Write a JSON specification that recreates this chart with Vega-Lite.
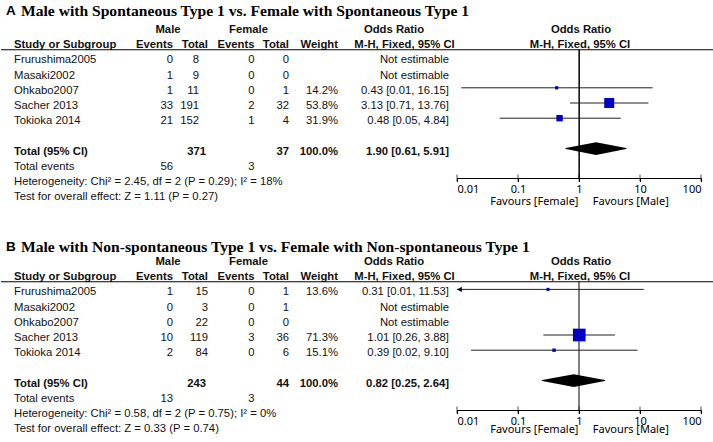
{
  "$schema": "https://vega.github.io/schema/vega-lite/v6.json",
  "background": "white",
  "padding": 0,
  "spacing": 0,
  "config": {"view": {"stroke": null}},
  "datasets": {
    "cells": [
      {"p":"A","row":0,"col":10,"t":"Male"},{"p":"A","row":0,"col":11,"t":"Female"},{"p":"A","row":0,"col":12,"t":"Odds Ratio"},{"p":"A","row":0,"col":14,"t":"Odds Ratio"},
      {"p":"A","row":1,"col":2,"t":"Study or Subgroup"},{"p":"A","row":1,"col":3,"t":"Events"},{"p":"A","row":1,"col":4,"t":"Total"},{"p":"A","row":1,"col":6,"t":"Events"},{"p":"A","row":1,"col":7,"t":"Total"},{"p":"A","row":1,"col":8,"t":"Weight"},{"p":"A","row":1,"col":13,"t":"M-H, Fixed, 95% CI"},{"p":"A","row":1,"col":15,"t":"M-H, Fixed, 95% CI"},
      {"p":"A","row":2,"col":2,"t":"Frurushima2005"},{"p":"A","row":2,"col":3,"t":"0"},{"p":"A","row":2,"col":5,"t":"8"},{"p":"A","row":2,"col":6,"t":"0"},{"p":"A","row":2,"col":7,"t":"0"},{"p":"A","row":2,"col":9,"t":"Not estimable"},
      {"p":"A","row":3,"col":2,"t":"Masaki2002"},{"p":"A","row":3,"col":3,"t":"1"},{"p":"A","row":3,"col":5,"t":"9"},{"p":"A","row":3,"col":6,"t":"0"},{"p":"A","row":3,"col":7,"t":"0"},{"p":"A","row":3,"col":9,"t":"Not estimable"},
      {"p":"A","row":4,"col":2,"t":"Ohkabo2007"},{"p":"A","row":4,"col":3,"t":"1"},{"p":"A","row":4,"col":5,"t":"11"},{"p":"A","row":4,"col":6,"t":"0"},{"p":"A","row":4,"col":7,"t":"1"},{"p":"A","row":4,"col":8,"t":"14.2%"},{"p":"A","row":4,"col":9,"t":"0.43 [0.01, 16.15]"},
      {"p":"A","row":5,"col":2,"t":"Sacher 2013"},{"p":"A","row":5,"col":3,"t":"33"},{"p":"A","row":5,"col":5,"t":"191"},{"p":"A","row":5,"col":6,"t":"2"},{"p":"A","row":5,"col":7,"t":"32"},{"p":"A","row":5,"col":8,"t":"53.8%"},{"p":"A","row":5,"col":9,"t":"3.13 [0.71, 13.76]"},
      {"p":"A","row":6,"col":2,"t":"Tokioka 2014"},{"p":"A","row":6,"col":3,"t":"21"},{"p":"A","row":6,"col":5,"t":"152"},{"p":"A","row":6,"col":6,"t":"1"},{"p":"A","row":6,"col":7,"t":"4"},{"p":"A","row":6,"col":8,"t":"31.9%"},{"p":"A","row":6,"col":9,"t":"0.48 [0.05, 4.84]"},
      {"p":"A","row":8,"col":2,"t":"Total (95% CI)"},{"p":"A","row":8,"col":16,"t":"371"},{"p":"A","row":8,"col":7,"t":"37"},{"p":"A","row":8,"col":8,"t":"100.0%"},{"p":"A","row":8,"col":9,"t":"1.90 [0.61, 5.91]"},
      {"p":"A","row":9,"col":2,"t":"Total events"},{"p":"A","row":9,"col":3,"t":"56"},{"p":"A","row":9,"col":6,"t":"3"},
      {"p":"A","row":10,"col":2,"t":"Heterogeneity: Chi² = 2.45, df = 2 (P = 0.29); I² = 18%"},
      {"p":"A","row":11,"col":2,"t":"Test for overall effect: Z = 1.11 (P = 0.27)"},
      {"p":"B","row":0,"col":10,"t":"Male"},{"p":"B","row":0,"col":11,"t":"Female"},{"p":"B","row":0,"col":12,"t":"Odds Ratio"},{"p":"B","row":0,"col":14,"t":"Odds Ratio"},
      {"p":"B","row":1,"col":2,"t":"Study or Subgroup"},{"p":"B","row":1,"col":3,"t":"Events"},{"p":"B","row":1,"col":4,"t":"Total"},{"p":"B","row":1,"col":6,"t":"Events"},{"p":"B","row":1,"col":7,"t":"Total"},{"p":"B","row":1,"col":8,"t":"Weight"},{"p":"B","row":1,"col":13,"t":"M-H, Fixed, 95% CI"},{"p":"B","row":1,"col":15,"t":"M-H, Fixed, 95% CI"},
      {"p":"B","row":2,"col":2,"t":"Frurushima2005"},{"p":"B","row":2,"col":3,"t":"1"},{"p":"B","row":2,"col":4,"t":"15"},{"p":"B","row":2,"col":6,"t":"0"},{"p":"B","row":2,"col":7,"t":"1"},{"p":"B","row":2,"col":8,"t":"13.6%"},{"p":"B","row":2,"col":9,"t":"0.31 [0.01, 11.53]"},
      {"p":"B","row":3,"col":2,"t":"Masaki2002"},{"p":"B","row":3,"col":3,"t":"0"},{"p":"B","row":3,"col":4,"t":"3"},{"p":"B","row":3,"col":6,"t":"0"},{"p":"B","row":3,"col":7,"t":"1"},{"p":"B","row":3,"col":9,"t":"Not estimable"},
      {"p":"B","row":4,"col":2,"t":"Ohkabo2007"},{"p":"B","row":4,"col":3,"t":"0"},{"p":"B","row":4,"col":4,"t":"22"},{"p":"B","row":4,"col":6,"t":"0"},{"p":"B","row":4,"col":7,"t":"0"},{"p":"B","row":4,"col":9,"t":"Not estimable"},
      {"p":"B","row":5,"col":2,"t":"Sacher 2013"},{"p":"B","row":5,"col":3,"t":"10"},{"p":"B","row":5,"col":4,"t":"119"},{"p":"B","row":5,"col":6,"t":"3"},{"p":"B","row":5,"col":7,"t":"36"},{"p":"B","row":5,"col":8,"t":"71.3%"},{"p":"B","row":5,"col":9,"t":"1.01 [0.26, 3.88]"},
      {"p":"B","row":6,"col":2,"t":"Tokioka 2014"},{"p":"B","row":6,"col":3,"t":"2"},{"p":"B","row":6,"col":4,"t":"84"},{"p":"B","row":6,"col":6,"t":"0"},{"p":"B","row":6,"col":7,"t":"6"},{"p":"B","row":6,"col":8,"t":"15.1%"},{"p":"B","row":6,"col":9,"t":"0.39 [0.02, 9.10]"},
      {"p":"B","row":8,"col":2,"t":"Total (95% CI)"},{"p":"B","row":8,"col":16,"t":"243"},{"p":"B","row":8,"col":7,"t":"44"},{"p":"B","row":8,"col":8,"t":"100.0%"},{"p":"B","row":8,"col":9,"t":"0.82 [0.25, 2.64]"},
      {"p":"B","row":9,"col":2,"t":"Total events"},{"p":"B","row":9,"col":3,"t":"13"},{"p":"B","row":9,"col":6,"t":"3"},
      {"p":"B","row":10,"col":2,"t":"Heterogeneity: Chi² = 0.58, df = 2 (P = 0.75); I² = 0%"},
      {"p":"B","row":11,"col":2,"t":"Test for overall effect: Z = 0.33 (P = 0.74)"}
    ],
    "titles": [
      {"p":"A","letter":"A","t":"Male with Spontaneous Type 1 vs. Female with Spontaneous Type 1"},
      {"p":"B","letter":"B","t":"Male with Non-spontaneous Type 1 vs. Female with Non-spontaneous Type 1"}
    ],
    "studies": [
      {"p":"A","row":4,"or":0.43,"lo":0.0117,"hi":16.15,"weight":14.2,"clip":false},
      {"p":"A","row":5,"or":3.13,"lo":0.71,"hi":13.76,"weight":53.8,"clip":false},
      {"p":"A","row":6,"or":0.48,"lo":0.05,"hi":4.84,"weight":31.9,"clip":false},
      {"p":"B","row":2,"or":0.31,"lo":0.01,"hi":11.53,"weight":13.6,"clip":true},
      {"p":"B","row":5,"or":1.01,"lo":0.26,"hi":3.88,"weight":71.3,"clip":false},
      {"p":"B","row":6,"or":0.39,"lo":0.017,"hi":9.10,"weight":15.1,"clip":false}
    ],
    "pooled": [
      {"p":"A","row":8,"x":0.61,"weight":0},{"p":"A","row":8,"x":1.90,"weight":100},{"p":"A","row":8,"x":5.91,"weight":0},
      {"p":"B","row":8,"x":0.25,"weight":0},{"p":"B","row":8,"x":0.82,"weight":100},{"p":"B","row":8,"x":2.64,"weight":0}
    ],
    "nullline": [
      {"p":"A","or":1,"col":17,"from":1.3,"to":9.737},
      {"p":"B","or":1,"col":17,"from":1.3,"to":9.737}
    ],
    "ticks": [{"v":0.01},{"v":0.1},{"v":1},{"v":10},{"v":100}]
  },
  "vconcat": [
    {
      "width": 713, "height": 232,
      "resolve": {"scale": {"x": "independent", "size": "independent"}, "axis": {"x": "independent"}},
      "layer": [
        {
          "data": {"name": "cells"},
          "transform": [{"filter": "datum.p == 'A'"}],
          "encoding": {
            "x": {"field": "col", "type": "quantitative", "axis": null, "scale": {"domain": [0,1,2,3,4,5,6,7,8,9,10,11,12,13,14,15,16,17], "range": [5,20,13,172,207,198,253.5,288,337,448,167,247.5,393,403.5,580,579,205,578.3], "zero": false, "nice": false}},
            "y": {"field": "row", "type": "quantitative", "axis": null, "scale": {"domain": [-1.974, 13.289], "reverse": true, "zero": false, "nice": false}}
          },
          "layer": [
            {"transform": [{"filter": "datum.col == 2 && datum.row >= 2 && datum.row != 8"}], "mark": {"type": "text", "align": "left", "baseline": "middle", "font": "Liberation Sans", "fontSize": 11.3, "color": "#111"}, "encoding": {"text": {"field": "t", "type": "nominal"}}},
            {"transform": [{"filter": "datum.col == 2 && (datum.row <= 1 || datum.row == 8)"}], "mark": {"type": "text", "align": "left", "baseline": "middle", "font": "Liberation Sans", "fontSize": 11.3, "fontWeight": "bold", "color": "#111"}, "encoding": {"text": {"field": "t", "type": "nominal"}}},
            {"transform": [{"filter": "datum.col >= 3 && datum.col <= 9 && datum.row >= 2 && datum.row != 8"}], "mark": {"type": "text", "align": "right", "baseline": "middle", "font": "Liberation Sans", "fontSize": 11.3, "color": "#111"}, "encoding": {"text": {"field": "t", "type": "nominal"}}},
            {"transform": [{"filter": "((datum.col >= 3 && datum.col <= 9) || datum.col == 16) && (datum.row <= 1 || datum.row == 8)"}], "mark": {"type": "text", "align": "right", "baseline": "middle", "font": "Liberation Sans", "fontSize": 11.3, "fontWeight": "bold", "color": "#111"}, "encoding": {"text": {"field": "t", "type": "nominal"}}},
            {"transform": [{"filter": "datum.col >= 10 && datum.col <= 15"}], "mark": {"type": "text", "align": "center", "baseline": "middle", "font": "Liberation Sans", "fontSize": 11.3, "fontWeight": "bold", "color": "#111"}, "encoding": {"text": {"field": "t", "type": "nominal"}}},
            {
              "data": {"name": "nullline"},
              "transform": [{"filter": "datum.p == 'A'"}],
              "mark": {"type": "rule", "color": "#000", "strokeWidth": 1},
              "encoding": {
                "y": {"field": "from", "type": "quantitative", "axis": null, "scale": {"domain": [-1.974, 13.289], "reverse": true, "zero": false, "nice": false}},
                "y2": {"field": "to"}
              }
            }
          ]
        },
        {
          "data": {"name": "titles"},
          "transform": [{"filter": "datum.p == 'A'"}],
          "mark": {"type": "text", "align": "left", "baseline": "middle", "font": "Liberation Sans", "fontSize": 13.5, "fontWeight": "bold", "color": "#000"},
          "encoding": {
            "x": {"datum": 0, "type": "quantitative", "axis": null, "scale": {"domain": [0,1,2,3,4,5,6,7,8,9,10,11,12,13,14,15,16], "range": [5,20,13,172,207,198,253.5,288,337,448,167,247.5,393,403.5,580,579,205], "zero": false, "nice": false}},
            "y": {"datum": -1.26, "type": "quantitative", "axis": null, "scale": {"domain": [-1.974, 13.289], "reverse": true, "zero": false, "nice": false}},
            "text": {"field": "letter", "type": "nominal"}
          }
        },
        {
          "data": {"name": "titles"},
          "transform": [{"filter": "datum.p == 'A'"}],
          "mark": {"type": "text", "align": "left", "baseline": "middle", "font": "Liberation Serif", "fontSize": 15.6, "fontWeight": "bold", "color": "#000"},
          "encoding": {
            "x": {"datum": 1, "type": "quantitative", "axis": null, "scale": {"domain": [0,1,2,3,4,5,6,7,8,9,10,11,12,13,14,15,16], "range": [5,20,13,172,207,198,253.5,288,337,448,167,247.5,393,403.5,580,579,205], "zero": false, "nice": false}},
            "y": {"datum": -1.26, "type": "quantitative", "axis": null, "scale": {"domain": [-1.974, 13.289], "reverse": true, "zero": false, "nice": false}},
            "text": {"field": "t", "type": "nominal"}
          }
        },
        {
          "data": {"values": [{}]},
          "mark": {"type": "rule", "color": "#000", "strokeWidth": 1},
          "encoding": {"y": {"datum": 1.3, "type": "quantitative", "axis": null, "scale": {"domain": [-1.974, 13.289], "reverse": true, "zero": false, "nice": false}}}
        },
        {
          "data": {"name": "nullline"},
          "transform": [{"filter": "datum.p == 'A'"}],
          "mark": {"type": "rule", "color": "#000", "strokeWidth": 1},
          "encoding": {
            "x": {"field": "or", "type": "quantitative", "axis": null, "scale": {"type": "log", "domain": [0.01, 100], "range": [456, 700], "nice": false}},
            "y": {"field": "from", "type": "quantitative", "axis": null, "scale": {"domain": [-1.974, 13.289], "reverse": true, "zero": false, "nice": false}},
            "y2": {"field": "to"}
          }
        },
        {
          "data": {"name": "studies"},
          "transform": [{"filter": "datum.p == 'A'"}],
          "mark": {"type": "rule", "color": "#222", "strokeWidth": 1, "yOffset": -3},
          "encoding": {
            "x": {"field": "lo", "type": "quantitative", "scale": {"type": "log", "domain": [0.01, 100], "range": [456, 700], "nice": false},
                  "axis": {"orient": "bottom", "offset": -54, "values": [0.01, 0.1, 1, 10, 100], "format": "~g", "grid": false, "domainColor": "#000", "tickColor": "#000", "tickSize": 3.5, "labelFont": "Noto Sans", "labelFontSize": 11, "labelColor": "#000", "labelPadding": 2, "labelFlush": true, "labelOverlap": false, "title": "Favours [Female]\u00a0\u00a0\u00a0\u00a0 Favours [Male]", "titleFont": "Noto Sans", "titleFontSize": 11, "titleFontWeight": "normal", "titleColor": "#000", "titlePadding": 1}},
            "x2": {"field": "hi"},
            "y": {"field": "row", "type": "quantitative", "axis": null, "scale": {"domain": [-1.974, 13.289], "reverse": true, "zero": false, "nice": false}}
          }
        },
        {
          "data": {"name": "studies"},
          "transform": [{"filter": "datum.p == 'A'"}],
          "mark": {"type": "square", "filled": true, "color": "#0000c4", "opacity": 1, "yOffset": -3},
          "encoding": {
            "x": {"field": "or", "type": "quantitative", "axis": null, "scale": {"type": "log", "domain": [0.01, 100], "range": [456, 700], "nice": false}},
            "y": {"field": "row", "type": "quantitative", "axis": null, "scale": {"domain": [-1.974, 13.289], "reverse": true, "zero": false, "nice": false}},
            "size": {"field": "weight", "type": "quantitative", "legend": null, "scale": {"type": "pow", "exponent": 1.7, "domain": [0, 71.3], "range": [0, 161]}}
          }
        },
        {
          "data": {"name": "pooled"},
          "transform": [{"filter": "datum.p == 'A'"}],
          "mark": {"type": "trail", "color": "#000", "yOffset": -3},
          "encoding": {
            "x": {"field": "x", "type": "quantitative", "axis": null, "scale": {"type": "log", "domain": [0.01, 100], "range": [456, 700], "nice": false}},
            "y": {"field": "row", "type": "quantitative", "axis": null, "scale": {"domain": [-1.974, 13.289], "reverse": true, "zero": false, "nice": false}},
            "size": {"field": "weight", "type": "quantitative", "legend": null, "scale": {"domain": [0, 100], "range": [0, 12.6]}}
          }
        },
        {
          "data": {"name": "ticks"},
          "mark": {"type": "tick", "orient": "vertical", "size": 7, "thickness": 1, "color": "#000"},
          "encoding": {
            "x": {"field": "v", "type": "quantitative", "axis": null, "scale": {"type": "log", "domain": [0.01, 100], "range": [456, 700], "nice": false}},
            "y": {"datum": 9.737, "type": "quantitative", "axis": null, "scale": {"domain": [-1.974, 13.289], "reverse": true, "zero": false, "nice": false}}
          }
        }
      ]
    },
    {
      "width": 713, "height": 210,
      "resolve": {"scale": {"x": "independent", "size": "independent"}, "axis": {"x": "independent"}},
      "layer": [
        {
          "data": {"name": "cells"},
          "transform": [{"filter": "datum.p == 'B'"}],
          "encoding": {
            "x": {"field": "col", "type": "quantitative", "axis": null, "scale": {"domain": [0,1,2,3,4,5,6,7,8,9,10,11,12,13,14,15,16], "range": [5,20,13,172,207,198,253.5,288,337,448,167,247.5,393,403.5,580,579,205], "zero": false, "nice": false}},
            "y": {"field": "row", "type": "quantitative", "axis": null, "scale": {"domain": [-1.974, 11.842], "reverse": true, "zero": false, "nice": false}},
            "text": {"field": "t", "type": "nominal"}
          },
          "layer": [
            {"transform": [{"filter": "datum.col == 2 && datum.row >= 2 && datum.row != 8"}], "mark": {"type": "text", "align": "left", "baseline": "middle", "font": "Liberation Sans", "fontSize": 11.3, "color": "#111"}},
            {"transform": [{"filter": "datum.col == 2 && (datum.row <= 1 || datum.row == 8)"}], "mark": {"type": "text", "align": "left", "baseline": "middle", "font": "Liberation Sans", "fontSize": 11.3, "fontWeight": "bold", "color": "#111"}},
            {"transform": [{"filter": "datum.col >= 3 && datum.col <= 9 && datum.row >= 2 && datum.row != 8"}], "mark": {"type": "text", "align": "right", "baseline": "middle", "font": "Liberation Sans", "fontSize": 11.3, "color": "#111"}},
            {"transform": [{"filter": "((datum.col >= 3 && datum.col <= 9) || datum.col == 16) && (datum.row <= 1 || datum.row == 8)"}], "mark": {"type": "text", "align": "right", "baseline": "middle", "font": "Liberation Sans", "fontSize": 11.3, "fontWeight": "bold", "color": "#111"}},
            {"transform": [{"filter": "datum.col >= 10 && datum.col <= 15"}], "mark": {"type": "text", "align": "center", "baseline": "middle", "font": "Liberation Sans", "fontSize": 11.3, "fontWeight": "bold", "color": "#111"}}
          ]
        },
        {
          "data": {"name": "titles"},
          "transform": [{"filter": "datum.p == 'B'"}],
          "mark": {"type": "text", "align": "left", "baseline": "middle", "font": "Liberation Sans", "fontSize": 13.5, "fontWeight": "bold", "color": "#000"},
          "encoding": {
            "x": {"datum": 0, "type": "quantitative", "axis": null, "scale": {"domain": [0,1,2,3,4,5,6,7,8,9,10,11,12,13,14,15,16], "range": [5,20,13,172,207,198,253.5,288,337,448,167,247.5,393,403.5,580,579,205], "zero": false, "nice": false}},
            "y": {"datum": -1.0, "type": "quantitative", "axis": null, "scale": {"domain": [-1.974, 11.842], "reverse": true, "zero": false, "nice": false}},
            "text": {"field": "letter", "type": "nominal"}
          }
        },
        {
          "data": {"name": "titles"},
          "transform": [{"filter": "datum.p == 'B'"}],
          "mark": {"type": "text", "align": "left", "baseline": "middle", "font": "Liberation Serif", "fontSize": 15.6, "fontWeight": "bold", "color": "#000"},
          "encoding": {
            "x": {"datum": 1, "type": "quantitative", "axis": null, "scale": {"domain": [0,1,2,3,4,5,6,7,8,9,10,11,12,13,14,15,16], "range": [5,20,13,172,207,198,253.5,288,337,448,167,247.5,393,403.5,580,579,205], "zero": false, "nice": false}},
            "y": {"datum": -1.0, "type": "quantitative", "axis": null, "scale": {"domain": [-1.974, 11.842], "reverse": true, "zero": false, "nice": false}},
            "text": {"field": "t", "type": "nominal"}
          }
        },
        {
          "data": {"values": [{}]},
          "mark": {"type": "rule", "color": "#000", "strokeWidth": 1},
          "encoding": {"y": {"datum": 1.3, "type": "quantitative", "axis": null, "scale": {"domain": [-1.974, 11.842], "reverse": true, "zero": false, "nice": false}}}
        },
        {
          "data": {"name": "nullline"},
          "transform": [{"filter": "datum.p == 'B'"}],
          "mark": {"type": "rule", "color": "#000", "strokeWidth": 1},
          "encoding": {
            "x": {"field": "or", "type": "quantitative", "axis": null, "scale": {"type": "log", "domain": [0.01, 100], "range": [456, 700], "nice": false}},
            "y": {"field": "from", "type": "quantitative", "axis": null, "scale": {"domain": [-1.974, 11.842], "reverse": true, "zero": false, "nice": false}},
            "y2": {"field": "to"}
          }
        },
        {
          "data": {"name": "studies"},
          "transform": [{"filter": "datum.p == 'B'"}],
          "mark": {"type": "rule", "color": "#222", "strokeWidth": 1, "yOffset": -3},
          "encoding": {
            "x": {"field": "lo", "type": "quantitative", "scale": {"type": "log", "domain": [0.01, 100], "range": [456, 700], "nice": false},
                  "axis": {"orient": "bottom", "offset": -32, "values": [0.01, 0.1, 1, 10, 100], "format": "~g", "grid": false, "domainColor": "#000", "tickColor": "#000", "tickSize": 3.5, "labelFont": "Noto Sans", "labelFontSize": 11, "labelColor": "#000", "labelPadding": 2, "labelFlush": true, "labelOverlap": false, "title": "Favours [Female]\u00a0\u00a0\u00a0\u00a0 Favours [Male]", "titleFont": "Noto Sans", "titleFontSize": 11, "titleFontWeight": "normal", "titleColor": "#000", "titlePadding": -3.5}},
            "x2": {"field": "hi"},
            "y": {"field": "row", "type": "quantitative", "axis": null, "scale": {"domain": [-1.974, 11.842], "reverse": true, "zero": false, "nice": false}}
          }
        },
        {
          "data": {"name": "studies"},
          "transform": [{"filter": "datum.p == 'B' && datum.clip"}],
          "mark": {"type": "point", "shape": "triangle-left", "filled": true, "color": "#000", "opacity": 1, "size": 28, "xOffset": 2.5, "yOffset": -3},
          "encoding": {
            "x": {"field": "lo", "type": "quantitative", "axis": null, "scale": {"type": "log", "domain": [0.01, 100], "range": [456, 700], "nice": false}},
            "y": {"field": "row", "type": "quantitative", "axis": null, "scale": {"domain": [-1.974, 11.842], "reverse": true, "zero": false, "nice": false}}
          }
        },
        {
          "data": {"name": "studies"},
          "transform": [{"filter": "datum.p == 'B'"}],
          "mark": {"type": "square", "filled": true, "color": "#0000c4", "opacity": 1, "yOffset": -3},
          "encoding": {
            "x": {"field": "or", "type": "quantitative", "axis": null, "scale": {"type": "log", "domain": [0.01, 100], "range": [456, 700], "nice": false}},
            "y": {"field": "row", "type": "quantitative", "axis": null, "scale": {"domain": [-1.974, 11.842], "reverse": true, "zero": false, "nice": false}},
            "size": {"field": "weight", "type": "quantitative", "legend": null, "scale": {"type": "pow", "exponent": 1.7, "domain": [0, 71.3], "range": [0, 161]}}
          }
        },
        {
          "data": {"name": "pooled"},
          "transform": [{"filter": "datum.p == 'B'"}],
          "mark": {"type": "trail", "color": "#000", "yOffset": -3},
          "encoding": {
            "x": {"field": "x", "type": "quantitative", "axis": null, "scale": {"type": "log", "domain": [0.01, 100], "range": [456, 700], "nice": false}},
            "y": {"field": "row", "type": "quantitative", "axis": null, "scale": {"domain": [-1.974, 11.842], "reverse": true, "zero": false, "nice": false}},
            "size": {"field": "weight", "type": "quantitative", "legend": null, "scale": {"domain": [0, 100], "range": [0, 12.6]}}
          }
        },
        {
          "data": {"name": "ticks"},
          "mark": {"type": "tick", "orient": "vertical", "size": 7, "thickness": 1, "color": "#000"},
          "encoding": {
            "x": {"field": "v", "type": "quantitative", "axis": null, "scale": {"type": "log", "domain": [0.01, 100], "range": [456, 700], "nice": false}},
            "y": {"datum": 9.737, "type": "quantitative", "axis": null, "scale": {"domain": [-1.974, 11.842], "reverse": true, "zero": false, "nice": false}}
          }
        }
      ]
    }
  ]
}
